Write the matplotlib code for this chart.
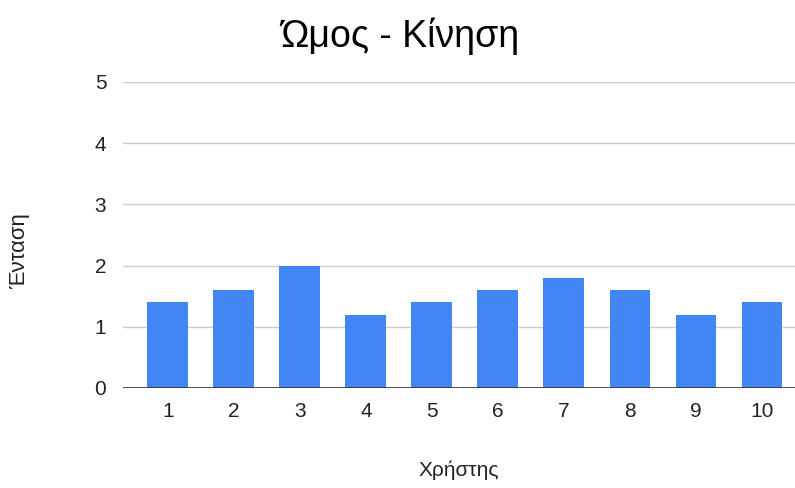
import matplotlib
matplotlib.use("Agg")
import matplotlib.pyplot as plt
import numpy as np

users = ["1", "2", "3", "4", "5", "6", "7", "8", "9", "10"]
intensity = [1.4, 1.6, 2.0, 1.2, 1.4, 1.6, 1.8, 1.6, 1.2, 1.4]
y_ticks = [0, 1, 2, 3, 4, 5]

plt.rcParams["font.family"] = ["Liberation Sans", "DejaVu Sans"]

fig = plt.figure(figsize=(7.95, 4.88), dpi=100)
ax = fig.add_axes([0.1547, 0.205, 0.8453, 0.627])

x = np.arange(len(users))
ax.bar(x, intensity, width=0.62, color="#4285f4", zorder=2)

ax.set_xlim(-0.68, 9.5)
ax.set_ylim(0, 5)
ax.set_yticks(y_ticks)
ax.set_xticks(x)
ax.set_xticklabels(users)
ax.tick_params(axis="both", length=0, labelsize=15, colors="#222222")
ax.tick_params(axis="y", pad=12)
ax.tick_params(axis="x", pad=10)

ax.grid(axis="y", color="#cccccc", linewidth=1.0, zorder=0)
ax.grid(axis="x", visible=False)
ax.axhline(0, color="#333333", linewidth=1.2, zorder=3)
for spine in ax.spines.values():
    spine.set_visible(False)

fig.text(0.503, 0.925, "Ώμος - Κίνηση", ha="center", va="center",
         fontsize=27, color="#000000")
fig.text(0.577, 0.036, "Χρήστης", ha="center", va="center",
         fontsize=15, color="#222222")
fig.text(0.024, 0.486, "Ένταση", rotation=90, ha="center", va="center",
         fontsize=16, color="#222222")

fig.savefig("out.png", dpi=100)
plt.close(fig)
